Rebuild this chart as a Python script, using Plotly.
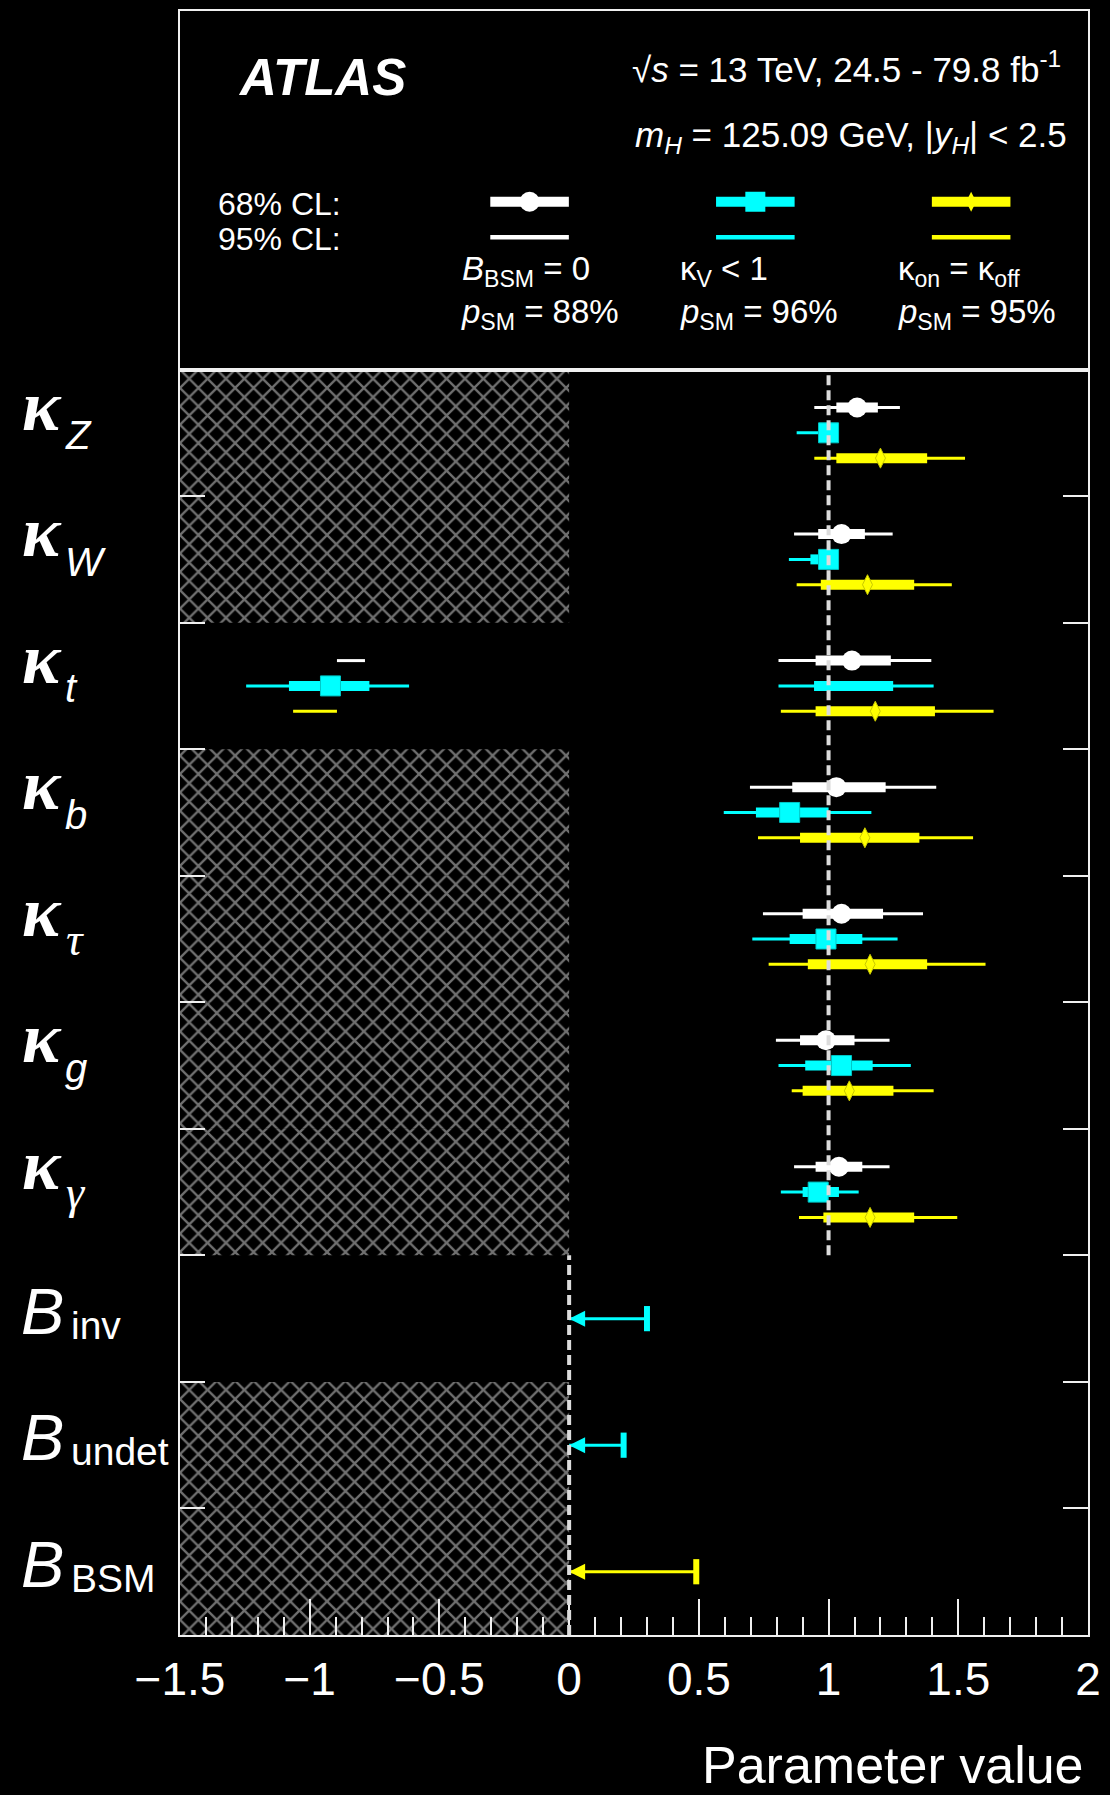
import plotly.graph_objects as go

# ---------------- data ----------------
row_main = ["κ", "κ", "κ", "κ", "κ", "κ", "κ", "B", "B", "B"]
row_sub = ["Z", "W", "t", "b", "τ", "g", "γ", "inv", "undet", "BSM"]
hatched_rows = [True, True, False, True, True, True, True, False, True, True]
hatch_lo, hatch_hi = -1.5, 0.0

# B_BSM = 0 (white)
w_best = [1.11, 1.05, 1.09, 1.03, 1.05, 0.99, 1.04]
w_lo68 = [1.03, 0.96, 0.95, 0.86, 0.90, 0.89, 0.95]
w_hi68 = [1.19, 1.14, 1.24, 1.22, 1.21, 1.10, 1.13]
w_lo95 = [0.945, 0.867, 0.807, 0.697, 0.747, 0.797, 0.867]
w_hi95 = [1.275, 1.247, 1.396, 1.415, 1.364, 1.235, 1.235]
w_kt_neg95 = [-0.895, -0.787]

# kappa_V < 1 (cyan)
c_best = [1.00, 1.00, -0.92, 0.85, 0.99, 1.05, 0.96]
c_lo68 = [0.97, 0.93, -1.08, 0.72, 0.85, 0.91, 0.90]
c_hi68 = [1.00, 1.00, -0.77, 1.00, 1.13, 1.17, 1.04]
c_lo95 = [0.877, 0.847, -1.245, 0.596, 0.706, 0.807, 0.816]
c_hi95 = [1.00, 1.00, -0.617, 1.165, 1.266, 1.317, 1.116]
c_kt_pos68 = [0.944, 1.249]
c_kt_pos95 = [0.807, 1.405]
c_binv_ul = 0.30
c_bundet_ul = 0.21

# kappa_on = kappa_off (yellow)
y_best = [1.20, 1.15, 1.18, 1.14, 1.16, 1.08, 1.16]
y_lo68 = [1.03, 0.97, 0.95, 0.89, 0.92, 0.90, 0.98]
y_hi68 = [1.38, 1.33, 1.41, 1.35, 1.38, 1.25, 1.33]
y_lo95 = [0.945, 0.877, 0.816, 0.728, 0.769, 0.858, 0.886]
y_hi95 = [1.526, 1.475, 1.636, 1.557, 1.605, 1.405, 1.496]
y_kt_neg95 = [-1.064, -0.895]
y_bbsm_ul = 0.49

x_tick_vals = [-1.5, -1, -0.5, 0, 0.5, 1, 1.5, 2]
x_tick_text = ["−1.5", "−1", "−0.5", "0", "0.5", "1", "1.5", "2"]

# ---------------- styling / layout constants ----------------
WHITE, CYAN, YELLOW = "#ffffff", "#00ffff", "#ffff00"
SANS, SERIF = "Liberation Sans", "Liberation Serif"
N_ROWS = len(row_sub)
row_y = [N_ROWS - 0.5 - k for k in range(N_ROWS)]
OFF_W, OFF_C, OFF_Y = 0.2, 0.0, -0.2
LW95, LW68 = 3, 10

FIG_W, FIG_H = 1110, 1795
L, R, T, B = 180, 1093, 9, 1635
PW, PH = R - L, B - T
Y_SPLIT = 368
main_dom_top = (B - Y_SPLIT) / PH


def px(x):
    return (x - L) / PW


def py(y):
    return (B - y) / PH


fig = go.Figure()

# hatched (excluded) regions
hy = [row_y[k] for k in range(N_ROWS) if hatched_rows[k]]
fig.add_trace(go.Bar(
    orientation="h", y=hy, x=[hatch_hi - hatch_lo] * len(hy), base=[hatch_lo] * len(hy),
    width=1.0, marker=dict(color="black", line=dict(width=0),
                           pattern=dict(shape="x", fgcolor="#e0e0e0", bgcolor="black",
                                        size=13, solidity=0.32)),
    hoverinfo="skip", showlegend=False))


def seg_trace(segs, color, width):
    xs, ys = [], []
    for lo, hi, yy in segs:
        xs += [lo, hi, None]
        ys += [yy, yy, None]
    return go.Scatter(x=xs, y=ys, mode="lines", line=dict(color=color, width=width),
                      hoverinfo="skip", showlegend=False)


nk = len(w_best)
# white
w95 = [(w_lo95[k], w_hi95[k], row_y[k] + OFF_W) for k in range(nk)]
w95.append((w_kt_neg95[0], w_kt_neg95[1], row_y[2] + OFF_W))
w68 = [(w_lo68[k], w_hi68[k], row_y[k] + OFF_W) for k in range(nk)]
# cyan
c95 = [(c_lo95[k], c_hi95[k], row_y[k] + OFF_C) for k in range(nk)]
c95.append((c_kt_pos95[0], c_kt_pos95[1], row_y[2] + OFF_C))
c68 = [(c_lo68[k], c_hi68[k], row_y[k] + OFF_C) for k in range(nk)]
c68.append((c_kt_pos68[0], c_kt_pos68[1], row_y[2] + OFF_C))
# yellow
y95 = [(y_lo95[k], y_hi95[k], row_y[k] + OFF_Y) for k in range(nk)]
y95.append((y_kt_neg95[0], y_kt_neg95[1], row_y[2] + OFF_Y))
y68 = [(y_lo68[k], y_hi68[k], row_y[k] + OFF_Y) for k in range(nk)]

for segs, col in [(w95, WHITE), (c95, CYAN), (y95, YELLOW)]:
    fig.add_trace(seg_trace(segs, col, LW95))
for segs, col in [(w68, WHITE), (c68, CYAN), (y68, YELLOW)]:
    fig.add_trace(seg_trace(segs, col, LW68))

fig.add_trace(go.Scatter(x=w_best, y=[row_y[k] + OFF_W for k in range(nk)], mode="markers",
                         marker=dict(symbol="circle", size=20, color=WHITE, line=dict(width=0)),
                         hoverinfo="skip", showlegend=False))
fig.add_trace(go.Scatter(x=c_best, y=[row_y[k] + OFF_C for k in range(nk)], mode="markers",
                         marker=dict(symbol="square", size=20, color=CYAN,
                                     line=dict(width=1, color="#00c8c8")),
                         hoverinfo="skip", showlegend=False))
fig.add_trace(go.Scatter(x=y_best, y=[row_y[k] + OFF_Y for k in range(nk)], mode="markers",
                         marker=dict(symbol="diamond-tall", size=14.3, color=YELLOW,
                                     line=dict(width=1, color="#c8c800")),
                         hoverinfo="skip", showlegend=False))

# upper limits on branching ratios
for ul, row, col in [(c_binv_ul, 7, CYAN), (c_bundet_ul, 8, CYAN), (y_bbsm_ul, 9, YELLOW)]:
    yy = row_y[row]
    fig.add_trace(go.Scatter(x=[0, ul], y=[yy, yy], mode="lines", line=dict(color=col, width=3),
                             hoverinfo="skip", showlegend=False))
    fig.add_trace(go.Scatter(x=[0], y=[yy], mode="markers",
                             marker=dict(symbol="arrow-left", size=16, color=col, line=dict(width=0)),
                             hoverinfo="skip", showlegend=False))
    fig.add_trace(go.Scatter(x=[ul], y=[yy], mode="markers",
                             marker=dict(symbol="line-ns", size=18, color=col,
                                         line=dict(width=6, color=col)),
                             hoverinfo="skip", showlegend=False))

# legend glyphs (in the header box, pixel units on x2/y2)
LEG_CX = [531.5, 758.5, 975.5]
LEG_HALF = 39.5
LEG_Y68, LEG_Y95 = 200, 235.5
for cx, col, sym, sz in [(LEG_CX[0], WHITE, "circle", 20), (LEG_CX[1], CYAN, "square", 20),
                         (LEG_CX[2], YELLOW, "diamond-tall", 14.3)]:
    fig.add_trace(go.Scatter(x=[cx - LEG_HALF, cx + LEG_HALF], y=[LEG_Y68, LEG_Y68], mode="lines",
                             line=dict(color=col, width=LW68), xaxis="x2", yaxis="y2",
                             hoverinfo="skip", showlegend=False))
    fig.add_trace(go.Scatter(x=[cx - LEG_HALF, cx + LEG_HALF], y=[LEG_Y95, LEG_Y95], mode="lines",
                             line=dict(color=col, width=4.5), xaxis="x2", yaxis="y2",
                             hoverinfo="skip", showlegend=False))
    fig.add_trace(go.Scatter(x=[cx], y=[LEG_Y68], mode="markers",
                             marker=dict(symbol=sym, size=sz, color=col, line=dict(width=0)),
                             xaxis="x2", yaxis="y2", hoverinfo="skip", showlegend=False))

# ---------------- text ----------------
ann = []


def text(s, x, base, size, family=SANS, anchor="left", c=0.3465):
    ann.append(dict(text=s, x=px(x), y=py(base - c * size), xref="paper", yref="paper",
                    xanchor=anchor, yanchor="middle", showarrow=False,
                    font=dict(size=size, family=family, color="white")))


text("<b><i>ATLAS</i></b>", 236, 93, 51)
text("√<i>s</i> = 13 TeV, 24.5 - 79.8 fb<sup>-1</sup>", 1068, 80, 35, anchor="right", c=0.42)
text("<i>m</i><sub><i>H</i></sub> = 125.09 GeV, |<i>y</i><sub><i>H</i></sub>| &lt; 2.5", 1074, 145, 35,
     anchor="right", c=0.2735)
text("68% CL:", 216, 213, 32)
text("95% CL:", 216, 248, 32)
text("<i>B</i><sub>BSM</sub> = 0", 462, 278, 33, c=0.2735)
text("κ<sub>V</sub> &lt; 1", 681, 278, 33, c=0.2735)
text("κ<sub>on</sub> = κ<sub>off</sub>", 900, 278, 33, c=0.2735)
for xx, pct in [(461, "88%"), (681, "96%"), (900, "95%")]:
    text("<i>p</i><sub>SM</sub> = " + pct, xx, 321, 33, c=0.2735)

# row labels
for k in range(N_ROWS):
    yc = Y_SPLIT + (k + 0.5) * (B - Y_SPLIT) / N_ROWS
    if row_main[k] == "κ":
        text("<b><i>κ</i></b>", 19, yc - 3, 72, family=SERIF, c=0.3375)
        if row_sub[k] in ("τ", "γ"):
            text("<i>" + row_sub[k] + "</i>", 63, yc + 16, 46, family=SERIF, c=0.3375)
        else:
            text("<i>" + row_sub[k] + "</i>", 62, yc + 16, 40)
    else:
        text("<i>B</i>", 18, yc + 15, 65)
        text(row_sub[k], 68, yc + 20, 39)

# axis title
text("Parameter value", 1091, 1783, 52, anchor="right")

# dashed reference lines
shapes = [
    dict(type="line", xref="x", yref="y", x0=1, x1=1, y0=N_ROWS - 7, y1=N_ROWS,
         line=dict(color="#dcdcdc", width=4, dash="10px,5px"), layer="above"),
    dict(type="line", xref="x", yref="y", x0=0, x1=0, y0=0, y1=N_ROWS - 7,
         line=dict(color="#dcdcdc", width=4, dash="10px,5px"), layer="above"),
]

fig.update_layout(
    width=FIG_W, height=FIG_H,
    margin=dict(l=L, r=FIG_W - R, t=T, b=FIG_H - B, pad=0),
    paper_bgcolor="black", plot_bgcolor="black",
    barmode="overlay", showlegend=False,
    annotations=ann, shapes=shapes,
    xaxis=dict(range=[-1.5, 2], domain=[0, 1], anchor="y",
               showline=True, linecolor="#f0f0f0", linewidth=2, mirror=True,
               ticks="inside", ticklen=36, tickwidth=2, tickcolor="#f0f0f0",
               tickmode="array", tickvals=x_tick_vals, ticktext=x_tick_text,
               minor=dict(tickmode="linear", tick0=-1.5, dtick=0.1, ticks="inside",
                          ticklen=18, tickwidth=2, tickcolor="#f0f0f0", showgrid=False),
               tickfont=dict(family=SANS, size=46, color="white"),
               ticklabelstandoff=3,
               showgrid=False, zeroline=False, fixedrange=True),
    yaxis=dict(range=[0, N_ROWS], domain=[0, main_dom_top], anchor="x",
               showline=True, linecolor="#f0f0f0", linewidth=2, mirror="ticks",
               ticks="inside", ticklen=25, tickwidth=2, tickcolor="#f0f0f0",
               tickmode="array", tickvals=list(range(1, N_ROWS)), showticklabels=False,
               showgrid=False, zeroline=False, fixedrange=True),
    xaxis2=dict(range=[L, R], domain=[0, 1], anchor="y2", fixedrange=True,
                showline=True, linecolor="#f0f0f0", linewidth=2, mirror=True,
                ticks="", showticklabels=False, showgrid=False, zeroline=False),
    yaxis2=dict(range=[Y_SPLIT, T], domain=[main_dom_top, 1], anchor="x2", fixedrange=True,
                showline=True, linecolor="#f0f0f0", linewidth=2, mirror=True,
                ticks="", showticklabels=False, showgrid=False, zeroline=False),
)

fig.write_html("out.html", config={"displayModeBar": False},
               post_script="document.body.style.margin='0';"
                           "document.body.style.backgroundColor='black';")
